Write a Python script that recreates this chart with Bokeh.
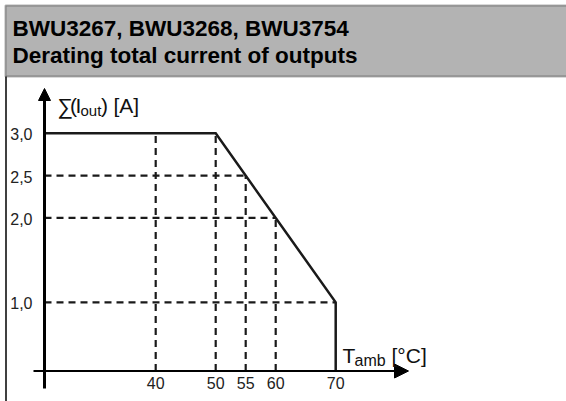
from bokeh.plotting import figure
from bokeh.models import Range1d, Label, BoxAnnotation, Arrow, NormalHead
from bokeh.core.properties import value
from bokeh.embed import file_html
from bokeh.resources import INLINE

# ---------------- data ----------------
title_line1 = "BWU3267, BWU3268, BWU3754"
title_line2 = "Derating total current of outputs"

temp_ticks = [40, 50, 55, 60, 70]
temp_tick_labels = ["40", "50", "55", "60", "70"]
current_ticks = [3.0, 2.5, 2.0, 1.0]
current_tick_labels = ["3,0", "2,5", "2,0", "1,0"]

# derating curve break points (T_amb in °C, total current in A)
derate_T = [50, 55, 60, 70]
derate_I = [3.0, 2.5, 2.0, 1.0]
max_current = 3.0
guide_T_extra = [40]          # extra vertical guide at 40 °C

# ---------------- layout (canvas pixels) ----------------
W, H = 566, 401
PX_PER_T = 6.0
PX_PER_I = 84.5
X_START = 40 - 155.2 / PX_PER_T
X_END = X_START + W / PX_PER_T
Y_END = 2.125 + 206.8 / PX_PER_I
Y_START = Y_END - H / PX_PER_I


def dx(cx):
    return X_START + cx * (X_END - X_START) / W


def dy(cy):
    return Y_END - cy * (Y_END - Y_START) / H


AXIS_T = dx(44)      # position of the vertical axis
AXIS_I = dy(370.5)   # position of the horizontal axis

FONT_NAME = "Liberation Sans"
FONT = value(FONT_NAME)
INK = "#1a1a1a"

p = figure(width=W, height=H, x_range=Range1d(X_START, X_END),
           y_range=Range1d(Y_START, Y_END), output_backend="svg",
           toolbar_location=None, title=None, min_border=0,
           min_border_left=0, min_border_right=0, min_border_top=0,
           min_border_bottom=0, x_axis_type=None, y_axis_type=None,
           outline_line_color=None, background_fill_color="white",
           border_fill_color="white")

# ---------------- header / frame ----------------
p.add_layout(BoxAnnotation(left=dx(5), right=dx(580), top=dy(5), bottom=dy(76),
                           fill_color="#b3b3b3", fill_alpha=1,
                           line_color="black", line_width=2, level="underlay"))
p.segment(x0=[dx(5.5)], y0=[dy(76)], x1=[dx(5.5)], y1=[dy(405)],
          line_color="black", line_width=1.5)

for txt, cy in [(title_line1, 28.3), (title_line2, 54.5)]:
    p.add_layout(Label(x=dx(12), y=dy(cy), text=txt, text_font=FONT_NAME,
                       text_font_size="22.5px", text_font_style="bold",
                       text_color="black", text_baseline="alphabetic"))

# ---------------- guides (dashed) ----------------
v_T = guide_T_extra + derate_T[:-1]
v_I = [max_current] + derate_I[:-1]
p.segment(x0=v_T, y0=[AXIS_I] * len(v_T), x1=v_T, y1=v_I,
          line_color=INK, line_width=2.2, line_dash="7 5")
h_I = derate_I[1:]
h_T = derate_T[1:]
p.segment(x0=[AXIS_T] * len(h_I), y0=h_I, x1=h_T, y1=h_I,
          line_color=INK, line_width=2.2, line_dash="7 5")

# ---------------- derating curve ----------------
curve_T = [AXIS_T, derate_T[0], derate_T[-1], derate_T[-1]]
curve_I = [max_current, derate_I[0], derate_I[-1], AXIS_I]
p.line(curve_T, curve_I, line_color=INK, line_width=2.5, line_join="miter")

# ---------------- axes with arrows ----------------
p.add_layout(Arrow(end=NormalHead(size=12, fill_color="black", line_color="black", line_width=1),
                   x_start=AXIS_T, y_start=dy(388), x_end=AXIS_T, y_end=dy(88),
                   line_color="black", line_width=3))
p.add_layout(Arrow(end=NormalHead(size=14, fill_color="black", line_color="black", line_width=1),
                   x_start=dx(33), y_start=AXIS_I, x_end=dx(408), y_end=AXIS_I,
                   line_color="black", line_width=2))

# ---------------- tick labels ----------------
p.text(x=[AXIS_T] * len(current_ticks), y=current_ticks, text=current_tick_labels,
       x_offset=-12, y_offset=1, text_align="right", text_baseline="middle",
       text_font=FONT, text_font_size="16px", text_color="#222222")
p.text(x=temp_ticks, y=[AXIS_I] * len(temp_ticks), text=temp_tick_labels,
       y_offset=6, text_align="center", text_baseline="top",
       text_font=FONT, text_font_size="16px", text_color="#222222")

# ---------------- axis titles ----------------
def lab(cx, cy, txt, size):
    p.add_layout(Label(x=dx(cx), y=dy(cy), text=txt, text_font=FONT_NAME,
                       text_font_size=size, text_color="#111111",
                       text_baseline="alphabetic"))

lab(57, 105.5, "\u2211", "22px")
lab(69.5, 105, "(", "21px")
lab(75, 105, "I", "21px")
lab(80, 109.5, "out", "15px")
lab(100.5, 105, ")", "21px")
lab(113, 105, "[A]", "21px")

lab(342, 355, "T", "21px")
lab(354, 359.5, "amb", "16px")
lab(391, 355, "[°C]", "21px")

open("out.html", "w").write(file_html(p, INLINE))
